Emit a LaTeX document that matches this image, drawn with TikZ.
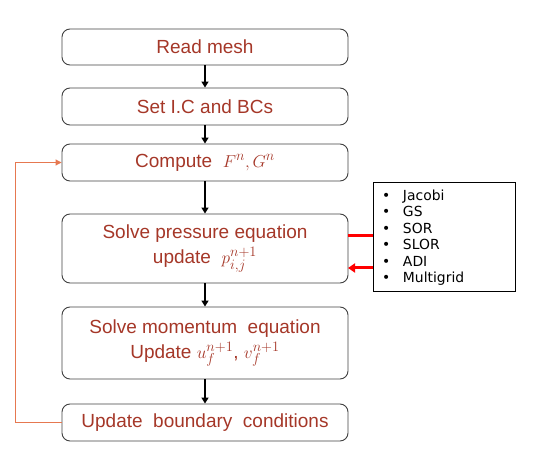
\documentclass[tikz,border=0pt]{standalone}
\usepackage{fontspec}
\setmainfont{Liberation Sans}
\newfontfamily\listfont{DejaVu Sans}
\usetikzlibrary{arrows.meta}
\definecolor{steptext}{RGB}{165,55,40}
\definecolor{loopline}{RGB}{230,120,80}
\begin{document}
\begin{tikzpicture}[x=1pt, y=-1pt,
  stepbox/.style={draw=black!75, line width=0.9pt, rounded corners=8pt, minimum width=286pt, text=steptext, align=center, font=\fontsize{19}{25}\selectfont},
  flow/.style={-{Triangle[width=7pt,length=6pt]}, line width=2pt},
  solver/.style={line width=3pt, red}]

\useasboundingbox (0,0) rectangle (533,454);

\node[stepbox, minimum height=36pt] (read) at (205,47) {Read mesh};
\node[stepbox, minimum height=37pt] (setic) at (205,106.5) {Set I.C and BCs};
\node[stepbox, minimum height=37pt] (compute) at (205,162.5) {Compute \ $F^n, G^n$};
\node[stepbox, minimum height=69pt] (pressure) at (205,248.5) {Solve pressure equation\\update \ $p_{i,j}^{n+1}$};
\node[stepbox, minimum height=72pt] (momentum) at (205,343) {Solve momentum \ equation\\Update $u_f^{n+1}$, $v_f^{n+1}$};
\node[stepbox, minimum height=37pt] (bc) at (205,422.5) {Update \ boundary \ conditions};

\node[draw, line width=1pt, minimum width=142pt, minimum height=109pt, inner xsep=9pt, text width=124pt, align=left, font=\listfont\fontsize{13.9}{16.5}\selectfont] (methods) at (444,237.5)
  {\makebox[21pt][l]{•}Jacobi\\ \makebox[21pt][l]{•}GS\\ \makebox[21pt][l]{•}SOR\\ \makebox[21pt][l]{•}SLOR\\ \makebox[21pt][l]{•}ADI\\ \makebox[21pt][l]{•}Multigrid};

\draw[flow] (read) -- (setic);
\draw[flow] (setic) -- (compute);
\draw[flow] (compute) -- (pressure);
\draw[flow] (pressure) -- (momentum);
\draw[flow] (momentum) -- (bc);

\coordinate (pout) at (348,236);
\coordinate (pin) at (348,268);
\draw[solver] (pout) -- (pout -| methods.west);
\draw[solver, -{Triangle[width=9pt,length=7pt]}] (pin -| methods.west) -- (pin);

\draw[loopline, line width=1pt, -{Triangle[width=6pt,length=6pt]}] (bc.west) -- ++(-46,0) |- (compute.west);

\end{tikzpicture}
\end{document}
